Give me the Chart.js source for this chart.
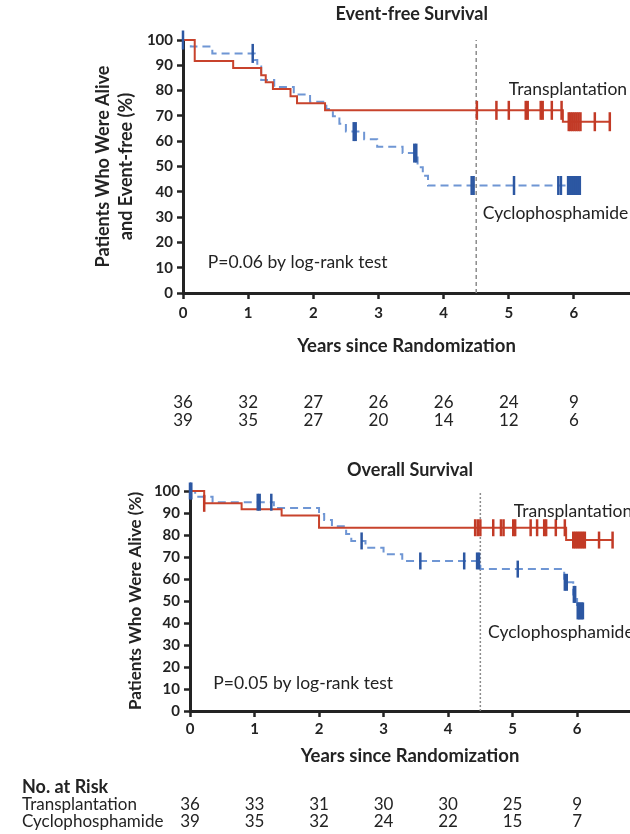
<!DOCTYPE html>
<html lang="en">
<head>
  <meta charset="UTF-8">
  <title>Event-free and Overall Survival</title>
  <script src="https://cdn.jsdelivr.net/npm/chart.js"></script>
  <style>
    body { margin: 0; background: #fff; }
    #wrap { position: relative; width: 630px; height: 834px; overflow: hidden; }
    .panel { position: absolute; left: 0; width: 630px; }
  </style>
</head>
<body>
<div id="wrap">
  <div class="panel" style="top:0;height:445px"><canvas id="efsChart" width="630" height="445"></canvas></div>
  <div class="panel" style="top:445px;height:389px"><canvas id="osChart" width="630" height="389"></canvas></div>
</div>
<script>
  // ---- data ----
  const yearTicks = [0, 1, 2, 3, 4, 5, 6];
  const landmarkYear = 4.5;

  // Event-free survival
  const efsTransTimes  = [0, 0.18, 0.77, 1.2, 1.27, 1.38, 1.65, 1.75, 2.18, 5.83, 6.55];
  const efsTransSurv   = [100, 91.7, 88.9, 86.1, 83.3, 80.6, 77.8, 75.0, 72.2, 67.7, 67.7];
  const efsTransCensor = [4.51, 4.81, 5.0, 5.26, 5.29, 5.49, 5.52, 5.66, 5.81, 5.92, 5.95, 5.98, 6.01, 6.04, 6.07, 6.1, 6.32, 6.55];
  const efsCycloTimes  = [0, 0.12, 0.45, 1.1, 1.14, 1.2, 1.4, 1.7, 1.95, 2.2, 2.3, 2.4, 2.5, 2.78, 2.98, 3.37, 3.6, 3.68, 3.76, 6.09];
  const efsCycloSurv   = [100, 97.4, 94.7, 92.1, 89.5, 84.2, 81.4, 78.5, 75.6, 72.7, 69.9, 66.9, 63.8, 60.8, 57.8, 55.3, 49.7, 46.3, 42.5, 42.5];
  const efsCycloCensor = [0, 1.07, 2.62, 2.65, 3.55, 3.58, 4.43, 4.46, 5.08, 5.76, 5.8, 5.91, 5.94, 5.97, 6.0, 6.03, 6.06, 6.09];
  const efsRiskTrans   = [36, 32, 27, 26, 26, 24, 9];
  const efsRiskCyclo   = [39, 35, 27, 20, 14, 12, 6];

  // Overall survival
  const osTransTimes  = [0, 0.22, 0.8, 1.42, 2.0, 5.83, 6.55];
  const osTransSurv   = [100, 94.4, 91.7, 88.9, 83.3, 77.7, 77.7];
  const osTransCensor = [0.22, 4.42, 4.46, 4.5, 4.7, 4.82, 4.86, 5.01, 5.04, 5.28, 5.38, 5.49, 5.52, 5.67, 5.81, 5.94, 5.97, 6.0, 6.03, 6.06, 6.09, 6.12, 6.34, 6.55];
  const osCycloTimes  = [0, 0.08, 0.35, 1.3, 2.0, 2.08, 2.2, 2.42, 2.5, 2.72, 3.0, 3.29, 4.5, 5.8, 5.94, 6.0, 6.1];
  const osCycloSurv   = [100, 97.4, 94.9, 92.3, 89.5, 86.8, 84.0, 80.5, 77.3, 74.2, 71.3, 68.2, 64.5, 58.5, 53.0, 45.5, 45.5];
  const osCycloCensor = [0, 0.02, 1.05, 1.08, 1.26, 2.66, 3.57, 4.25, 4.45, 4.48, 5.08, 5.81, 5.84, 5.95, 5.97, 6.01, 6.03, 6.05, 6.07, 6.09];
  const osRiskTrans   = [36, 33, 31, 30, 30, 25, 9];
  const osRiskCyclo   = [39, 35, 32, 24, 22, 15, 7];

  // ---- styling ----
  const RED = '#c8432c';
  const RED_TICK = '#c23a26';
  const BLUE = '#6f96d4';
  const BLUE_TICK = '#2c57a2';
  const INK = '#232323';
  const FONT = 'Lato, "DejaVu Sans", sans-serif';

  function toPoints(times, surv) {
    return times.map((t, i) => ({ x: t, y: surv[i] }));
  }
  // survival value of the step curve at time t
  function survAt(times, surv, t) {
    let v = surv[0];
    for (let i = 0; i < times.length; i++) if (times[i] <= t) v = surv[i];
    return v;
  }
  function censorPoints(times, surv, cens) {
    return cens.map(t => ({ x: t, y: survAt(times, surv, t) }));
  }

  // titles, curve labels, p-value and numbers at risk
  const kmText = {
    id: 'kmText',
    afterDraw(chart, args, o) {
      const { ctx, chartArea } = chart;
      const xs = chart.scales.x, ys = chart.scales.y;
      ctx.save();
      ctx.fillStyle = INK;
      ctx.textBaseline = 'middle';

      ctx.font = 'bold 18px ' + FONT;
      ctx.textAlign = 'center';
      ctx.fillText(o.title, xs.getPixelForValue(o.titleYear), chartArea.top - o.titleLift);

      ctx.font = '17.5px ' + FONT;
      ctx.textAlign = 'left';
      o.labels.forEach(l => {
        ctx.fillText(l.text, xs.getPixelForValue(l.x), ys.getPixelForValue(l.y));
      });

      // numbers at risk
      if (o.riskHeader) {
        ctx.font = 'bold 18px ' + FONT;
        ctx.fillText(o.riskHeader, 22, chartArea.bottom + o.riskHeaderDrop);
      }
      o.riskRows.forEach(r => {
        ctx.font = '17px ' + FONT;
        if (r.name) {
          ctx.textAlign = 'left';
          ctx.fillText(r.name, 22, chartArea.bottom + r.drop);
        }
        ctx.textAlign = 'center';
        r.values.forEach((v, i) => {
          ctx.fillText(String(v), xs.getPixelForValue(yearTicks[i]), chartArea.bottom + r.drop);
        });
      });
      ctx.restore();
    }
  };

  function makeChart(id, cfg) {
    const ctx = document.getElementById(id).getContext('2d');
    return new Chart(ctx, {
      type: 'line',
      data: {
        datasets: [
          {
            label: 'Transplantation',
            data: toPoints(cfg.transTimes, cfg.transSurv),
            stepped: true,
            borderColor: RED,
            borderWidth: 2,
            pointRadius: 0,
            order: 5
          },
          {
            label: 'Cyclophosphamide',
            data: toPoints(cfg.cycloTimes, cfg.cycloSurv),
            stepped: true,
            borderColor: BLUE,
            borderWidth: 2,
            borderDash: [8, 5],
            pointRadius: 0,
            order: 6
          },
          {
            label: 'Transplantation censored',
            data: censorPoints(cfg.transTimes, cfg.transSurv, cfg.transCensor),
            showLine: false,
            pointStyle: 'line',
            rotation: 90,
            pointRadius: cfg.tickRadius,
            pointBorderWidth: 2.5,
            pointBorderColor: RED_TICK,
            order: 1
          },
          {
            label: 'Cyclophosphamide censored',
            data: censorPoints(cfg.cycloTimes, cfg.cycloSurv, cfg.cycloCensor),
            showLine: false,
            pointStyle: 'line',
            rotation: 90,
            pointRadius: cfg.tickRadius,
            pointBorderWidth: 2.5,
            pointBorderColor: BLUE_TICK,
            order: 2
          },
          {
            label: 'landmark',
            data: [{ x: landmarkYear, y: 0 }, { x: landmarkYear, y: 100 }],
            borderColor: '#8c8c8c',
            borderWidth: 1.5,
            borderDash: cfg.landmarkDash,
            pointRadius: 0,
            order: 10
          }
        ]
      },
      options: {
        responsive: false,
        animation: false,
        clip: false,
        layout: {
          autoPadding: false,
          padding: { left: cfg.padLeft, top: cfg.padTop, right: 0, bottom: 0 }
        },
        plugins: {
          legend: { display: false },
          tooltip: { enabled: false },
          kmText: cfg.text
        },
        scales: {
          x: {
            type: 'linear',
            min: 0,
            max: cfg.xMax,
            afterFit: s => { s.height = cfg.xHeight; s.paddingLeft = 0; s.paddingRight = 0; },
            border: { display: true, width: 3, color: INK },
            grid: { drawOnChartArea: false, drawTicks: true, tickLength: 6, tickWidth: 2.5, tickColor: INK },
            ticks: {
              stepSize: 1,
              includeBounds: false,
              padding: cfg.xTickPad,
              color: INK,
              font: { family: FONT, size: 15, weight: 'bold' }
            },
            title: {
              display: true,
              text: 'Years since Randomization',
              color: INK,
              font: { family: FONT, size: 18.5, weight: 'bold', lineHeight: 1.2 },
              padding: { top: 4, bottom: cfg.xTitlePad }
            }
          },
          y: {
            min: 0,
            max: 100,
            afterFit: s => { s.width = cfg.yWidth; },
            border: { display: true, width: 3, color: INK },
            grid: { drawOnChartArea: false, drawTicks: true, tickLength: 6, tickWidth: 2.5, tickColor: INK },
            ticks: {
              stepSize: 10,
              padding: 4,
              color: INK,
              font: { family: FONT, size: 15, weight: 'bold' }
            },
            title: {
              display: true,
              text: cfg.yTitle,
              color: INK,
              font: { family: FONT, size: cfg.yTitleSize, weight: 'bold', lineHeight: 23 / cfg.yTitleSize },
              padding: { top: 4, bottom: 4 }
            }
          }
        }
      },
      plugins: [kmText]
    });
  }

  makeChart('efsChart', {
    transTimes: efsTransTimes, transSurv: efsTransSurv, transCensor: efsTransCensor,
    cycloTimes: efsCycloTimes, cycloSurv: efsCycloSurv, cycloCensor: efsCycloCensor,
    xMax: 6.86, padLeft: 88, padTop: 40, yWidth: 95, xHeight: 152,
    xTickPad: 5, xTitlePad: 88, tickRadius: 9.5, landmarkDash: [4, 3],
    yTitle: ['Patients Who Were Alive', 'and Event-free (%)'], yTitleSize: 18,
    text: {
      title: 'Event-free Survival', titleYear: 3.51, titleLift: 26,
      labels: [
        { text: 'Transplantation', x: 5.0, y: 80.6 },
        { text: 'Cyclophosphamide', x: 4.6, y: 31.6 },
        { text: 'P=0.06 by log-rank test', x: 0.38, y: 12.2 }
      ],
      riskRows: [
        { values: efsRiskTrans, drop: 110 },
        { values: efsRiskCyclo, drop: 128 }
      ]
    }
  });

  makeChart('osChart', {
    transTimes: osTransTimes, transSurv: osTransSurv, transCensor: osTransCensor,
    cycloTimes: osCycloTimes, cycloSurv: osCycloSurv, cycloCensor: osCycloCensor,
    xMax: 6.82, padLeft: 120, padTop: 46, yWidth: 70, xHeight: 123,
    xTickPad: 3, xTitlePad: 67, tickRadius: 8.5, landmarkDash: [2, 2],
    yTitle: 'Patients Who Were Alive (%)', yTitleSize: 17,
    text: {
      title: 'Overall Survival', titleYear: 3.41, titleLift: 21,
      labels: [
        { text: 'Transplantation', x: 5.02, y: 90.9 },
        { text: 'Cyclophosphamide', x: 4.62, y: 35.9 },
        { text: 'P=0.05 by log-rank test', x: 0.36, y: 12.7 }
      ],
      riskHeader: 'No. at Risk', riskHeaderDrop: 76,
      riskRows: [
        { name: 'Transplantation', values: osRiskTrans, drop: 94 },
        { name: 'Cyclophosphamide', values: osRiskCyclo, drop: 111 }
      ]
    }
  });
</script>
</body>
</html>
